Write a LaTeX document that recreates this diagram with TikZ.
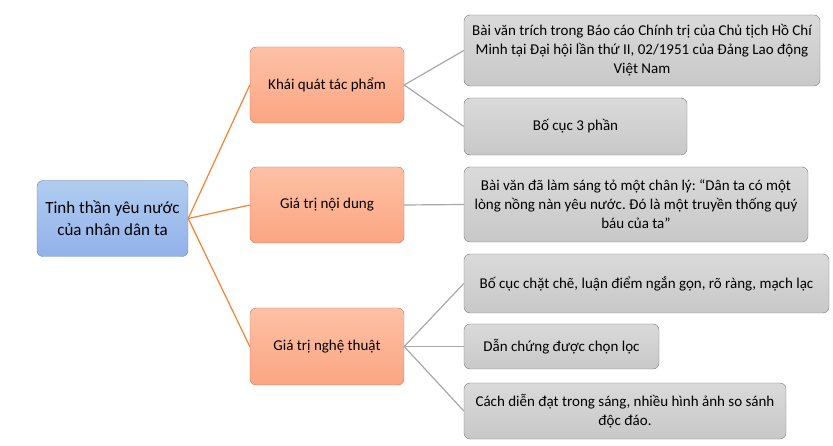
\documentclass[tikz,border=0pt]{standalone}
\usepackage{fontspec}
\setmainfont{Carlito}
\frenchspacing
\begin{document}
\begin{tikzpicture}[x=1pt,y=-1pt,
  rootbox/.style={draw=rootline, rounded corners=6pt, top color=rootTop, bottom color=rootBot,
    align=center, font=\fontsize{17}{22}\selectfont, inner sep=2pt},
  branchbox/.style={draw=branchline, rounded corners=6pt, top color=branchTop, bottom color=branchBot,
    align=center, font=\fontsize{15}{19}\selectfont, minimum width=154pt, minimum height=76pt, inner sep=2pt},
  leafbox/.style={draw=leafline, rounded corners=6pt, top color=leafTop, bottom color=leafBot,
    align=center, font=\fontsize{15}{19}\selectfont, inner sep=2pt},
  orangelink/.style={draw=orangeline, line width=1.2pt},
  graylink/.style={draw=grayline, line width=1.2pt}]
\definecolor{rootTop}{HTML}{B0CDF0}
\definecolor{rootBot}{HTML}{92B1EA}
\definecolor{rootline}{HTML}{6F84A6}
\definecolor{branchTop}{HTML}{FDC1A6}
\definecolor{branchBot}{HTML}{FCA582}
\definecolor{branchline}{HTML}{B97B62}
\definecolor{leafTop}{HTML}{DADADA}
\definecolor{leafBot}{HTML}{C8C8C8}
\definecolor{leafline}{HTML}{7A7A7A}
\definecolor{orangeline}{HTML}{F58234}
\definecolor{grayline}{HTML}{A8A8A8}
\useasboundingbox (0,0) rectangle (833,446);
% centre
\node[rootbox, minimum width=151pt, minimum height=76pt] (root) at (112.5,218.5)
  {Tinh thần yêu nước\\của nhân dân ta};
% branches
\node[branchbox] (khaiquat) at (327,85) {Khái quát tác phẩm};
\node[branchbox] (noidung) at (327,205) {Giá trị nội dung};
\node[branchbox, minimum height=77pt] (nghethuat) at (327,346.5) {Giá trị nghệ thuật};
% leaves
\node[leafbox, minimum width=356pt, minimum height=71pt] (trich) at (642,50.5)
  {Bài văn trích trong Báo cáo Chính trị của Chủ tịch Hồ Chí\\Minh tại Đại hội lần thứ II, 02/1951 của Đảng Lao động\\Việt Nam};
\node[leafbox, minimum width=223pt, minimum height=57pt] (bocuc) at (575.5,126.5) {Bố cục 3 phần};
\node[leafbox, minimum width=344pt, minimum height=75pt] (chanly) at (636,204.5)
  {Bài văn đã làm sáng tỏ một chân lý: “Dân ta có một\\lòng nồng nàn yêu nước. Đó là một truyền thống quý\\báu của ta”};
\node[leafbox, minimum width=365pt, minimum height=59pt] (chatche) at (646.5,283.5)
  {Bố cục chặt chẽ, luận điểm ngắn gọn, rõ ràng, mạch lạc};
\node[leafbox, minimum width=195pt, minimum height=45pt] (danchung) at (561.5,346.5)
  {Dẫn chứng được chọn lọc};
\node[leafbox, minimum width=322pt, minimum height=56pt] (diendat) at (625,411)
  {Cách diễn đạt trong sáng, nhiều hình ảnh so sánh\\độc đáo.};
% links
\draw[orangelink] (root.east) -- (khaiquat.west);
\draw[orangelink] (root.east) -- (noidung.west);
\draw[orangelink] (root.east) -- (nghethuat.west);
\draw[graylink] (khaiquat.east) -- (trich.west);
\draw[graylink] (khaiquat.east) -- (bocuc.west);
\draw[graylink] (noidung.east) -- (chanly.west);
\draw[graylink] (nghethuat.east) -- (chatche.west);
\draw[graylink] (nghethuat.east) -- (danchung.west);
\draw[graylink] (nghethuat.east) -- (diendat.west);
\end{tikzpicture}
\end{document}
